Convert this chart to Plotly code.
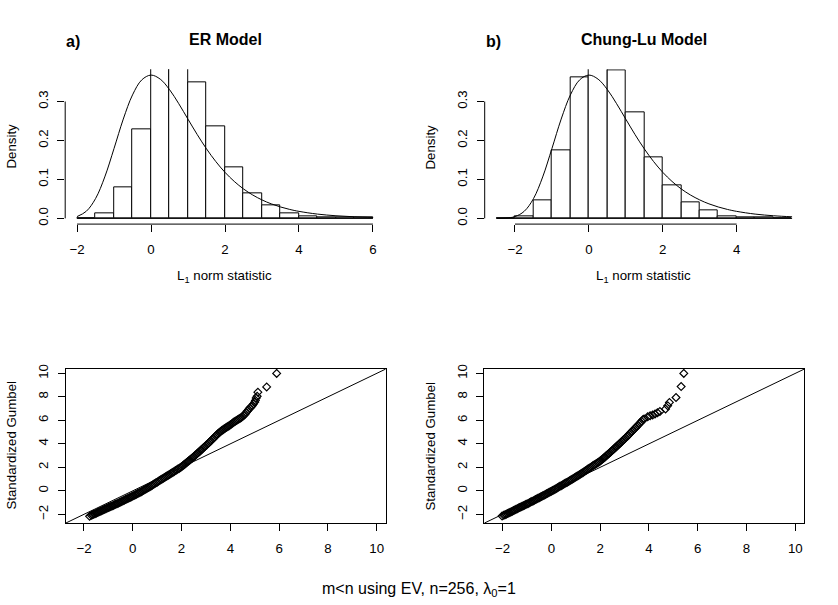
import plotly.graph_objects as go

W, H = 838, 605

# ---------------- data ----------------
# Histogram (density) - ER model
er_breaks = [-2.0, -1.5, -1.0, -0.5, 0.0, 0.5, 1.0, 1.5, 2.0, 2.5, 3.0, 3.5, 4.0, 4.5, 5.0, 5.5, 6.0]
er_density = [0.0, 0.012, 0.079, 0.228, 0.43, 0.41, 0.350, 0.237, 0.130, 0.063, 0.034, 0.0127, 0.006, 0.0034, 0.0025, 0.0017]

# Histogram (density) - Chung-Lu model
cl_breaks = [-2.5, -2.0, -1.5, -1.0, -0.5, 0.0, 0.5, 1.0, 1.5, 2.0, 2.5, 3.0, 3.5, 4.0, 4.5, 5.0, 5.5]
cl_density = [0.0, 0.005, 0.0456, 0.175, 0.3625, 0.448, 0.381, 0.271, 0.157, 0.0837, 0.0406, 0.0203, 0.005, 0.0025, 0.0017, 0.0008]

# Reference density curve
er_curve_x = [-2.0, -1.75, -1.5, -1.25, -1.0, -0.75, -0.5, -0.25, 0.0, 0.25, 0.5, 0.75, 1.0, 1.25, 1.5,
              1.75, 2.0, 2.25, 2.5, 2.75, 3.0, 3.25, 3.5, 3.75, 4.0, 4.5, 5.0, 5.5, 6.0]
er_curve_y = [0.0046, 0.0182, 0.0507, 0.1064, 0.1794, 0.2549, 0.3170, 0.3556, 0.3679, 0.3574, 0.3307,
              0.2945, 0.2546, 0.2151, 0.1785, 0.1461, 0.1182, 0.0949, 0.0756, 0.0600, 0.0474, 0.0373,
              0.0293, 0.0230, 0.0180, 0.0110, 0.0067, 0.0041, 0.0025]
cl_curve_x = [-2.5, -2.25, -2.0, -1.75, -1.5, -1.25, -1.0, -0.75, -0.5, -0.25, 0.0, 0.25, 0.5, 0.75, 1.0,
              1.25, 1.5, 1.75, 2.0, 2.25, 2.5, 2.75, 3.0, 3.25, 3.5, 3.75, 4.0, 4.5, 5.0, 5.5]
cl_curve_y = [0.0001, 0.0007, 0.0046, 0.0182, 0.0507, 0.1064, 0.1794, 0.2549, 0.3170, 0.3556, 0.3679,
              0.3574, 0.3307, 0.2945, 0.2546, 0.2151, 0.1785, 0.1461, 0.1182, 0.0949, 0.0756, 0.0600,
              0.0474, 0.0373, 0.0293, 0.0230, 0.0180, 0.0110, 0.0067, 0.0041]

# QQ plot - ER model
er_qq_x = [-1.77, -1.70, -1.65, -1.60, -1.55, -1.50, -1.45, -1.40, -1.35, -1.30, -1.25, -1.20, -1.15,
           -1.10, -1.05, -1.00, -0.95, -0.90, -0.85, -0.80, -0.75, -0.70, -0.65, -0.60, -0.55, -0.50,
           -0.45, -0.40, -0.35, -0.30, -0.25, -0.20, -0.15, -0.10, -0.05, 0.00, 0.05, 0.10, 0.15, 0.20,
           0.25, 0.30, 0.35, 0.40, 0.45, 0.50, 0.55, 0.60, 0.65, 0.70, 0.75, 0.80, 0.85, 0.90, 0.95,
           1.00, 1.05, 1.10, 1.15, 1.20, 1.25, 1.30, 1.35, 1.40, 1.45, 1.50, 1.55, 1.60, 1.65, 1.70,
           1.75, 1.80, 1.85, 1.90, 1.95, 2.00, 2.05, 2.10, 2.15, 2.20, 2.25, 2.30, 2.35, 2.40, 2.45,
           2.50, 2.55, 2.60, 2.65, 2.70, 2.75, 2.80, 2.85, 2.90, 2.95, 3.00, 3.05, 3.10, 3.15, 3.20,
           3.25, 3.30, 3.35, 3.40, 3.45, 3.50, 3.55, 3.60, 3.65, 3.70, 3.75, 3.80, 3.85, 3.90, 3.95,
           4.00, 4.05, 4.10, 4.15, 4.20, 4.25, 4.30, 4.35, 4.40, 4.45, 4.50, 4.55, 4.60, 4.65, 4.70,
           4.75, 4.80, 4.85, 4.90, 4.95, 5.00, 5.03, 5.06, 5.10, 5.13, 5.49, 5.90]
er_qq_y = [-2.17, -2.08, -2.04, -1.99, -1.95, -1.90, -1.85, -1.80, -1.76, -1.71, -1.66, -1.61, -1.57,
           -1.52, -1.47, -1.43, -1.38, -1.33, -1.29, -1.24, -1.19, -1.14, -1.10, -1.05, -1.00, -0.95,
           -0.90, -0.85, -0.80, -0.75, -0.70, -0.65, -0.60, -0.55, -0.50, -0.45, -0.40, -0.34, -0.29,
           -0.23, -0.18, -0.12, -0.07, -0.01, 0.05, 0.11, 0.17, 0.23, 0.29, 0.35, 0.42, 0.48, 0.55,
           0.61, 0.68, 0.74, 0.81, 0.87, 0.94, 1.00, 1.07, 1.13, 1.20, 1.26, 1.33, 1.39, 1.46, 1.52,
           1.59, 1.65, 1.72, 1.78, 1.85, 1.91, 1.98, 2.05, 2.13, 2.21, 2.30, 2.38, 2.47, 2.55, 2.64,
           2.73, 2.82, 2.91, 3.00, 3.09, 3.19, 3.28, 3.38, 3.47, 3.57, 3.66, 3.76, 3.85, 3.95, 4.05,
           4.15, 4.25, 4.36, 4.46, 4.57, 4.67, 4.78, 4.88, 4.97, 5.05, 5.13, 5.20, 5.28, 5.35, 5.42,
           5.48, 5.55, 5.62, 5.70, 5.78, 5.86, 5.93, 5.99, 6.05, 6.12, 6.18, 6.25, 6.32, 6.42, 6.52,
           6.66, 6.80, 6.92, 7.05, 7.15, 7.25, 7.40, 7.55, 7.70, 7.90, 8.05, 8.40, 8.85, 10.0]

# QQ plot - Chung-Lu model
cl_qq_x = [-2.02, -1.95, -1.90, -1.85, -1.80, -1.75, -1.70, -1.65, -1.60, -1.55, -1.50, -1.45, -1.40,
           -1.35, -1.30, -1.25, -1.20, -1.15, -1.10, -1.05, -1.00, -0.95, -0.90, -0.85, -0.80, -0.75,
           -0.70, -0.65, -0.60, -0.55, -0.50, -0.45, -0.40, -0.35, -0.30, -0.25, -0.20, -0.15, -0.10,
           -0.05, 0.00, 0.05, 0.10, 0.15, 0.20, 0.25, 0.30, 0.35, 0.40, 0.45, 0.50, 0.55, 0.60, 0.65,
           0.70, 0.75, 0.80, 0.85, 0.90, 0.95, 1.00, 1.05, 1.10, 1.15, 1.20, 1.25, 1.30, 1.35, 1.40,
           1.45, 1.50, 1.55, 1.60, 1.65, 1.70, 1.75, 1.80, 1.85, 1.90, 1.95, 2.00, 2.05, 2.10, 2.15,
           2.20, 2.25, 2.30, 2.35, 2.40, 2.45, 2.50, 2.55, 2.60, 2.65, 2.70, 2.75, 2.80, 2.85, 2.90,
           2.95, 3.00, 3.05, 3.10, 3.15, 3.20, 3.25, 3.30, 3.35, 3.40, 3.45, 3.50, 3.55, 3.60, 3.65,
           3.70, 3.75, 3.80, 3.95, 4.05, 4.15, 4.25, 4.35, 4.45, 4.68, 4.77, 4.84, 5.11, 5.32, 5.43]
cl_qq_y = [-2.14, -2.08, -2.03, -1.99, -1.94, -1.89, -1.84, -1.79, -1.74, -1.68, -1.63, -1.58, -1.53,
           -1.47, -1.42, -1.37, -1.32, -1.27, -1.22, -1.17, -1.12, -1.07, -1.02, -0.96, -0.91, -0.86,
           -0.81, -0.75, -0.70, -0.64, -0.59, -0.53, -0.48, -0.42, -0.37, -0.31, -0.26, -0.20, -0.15,
           -0.09, -0.04, 0.02, 0.08, 0.14, 0.20, 0.26, 0.32, 0.38, 0.44, 0.50, 0.56, 0.62, 0.68, 0.74,
           0.80, 0.86, 0.92, 0.98, 1.05, 1.11, 1.17, 1.23, 1.30, 1.36, 1.43, 1.50, 1.57, 1.64, 1.71,
           1.78, 1.85, 1.92, 1.99, 2.06, 2.13, 2.19, 2.26, 2.32, 2.39, 2.46, 2.53, 2.62, 2.71, 2.80,
           2.89, 2.98, 3.07, 3.16, 3.26, 3.35, 3.45, 3.54, 3.64, 3.73, 3.83, 3.92, 4.02, 4.12, 4.22,
           4.32, 4.42, 4.52, 4.62, 4.72, 4.83, 4.94, 5.05, 5.16, 5.27, 5.37, 5.48, 5.59, 5.70, 5.81,
           5.92, 6.05, 6.12, 6.30, 6.40, 6.45, 6.55, 6.65, 6.75, 6.97, 7.25, 7.53, 7.95, 8.88, 10.0]

hist_xticks_er = [-2, 0, 2, 4, 6]
hist_xticks_cl = [-2, 0, 2, 4]
hist_yticks = [0.0, 0.1, 0.2, 0.3]
hist_yticklabels = ["0.0", "0.1", "0.2", "0.3"]
qq_ticks = [-2, 0, 2, 4, 6, 8, 10]

# ---------------- layout helpers ----------------
FONT = "Liberation Sans, Arial, sans-serif"
TICK_FONT = dict(family=FONT, size=13.3, color="black")


def xdom(a, b):
    return [a / W, b / W]


def ydom(top, bottom):
    return [1 - bottom / H, 1 - top / H]


def px(x):
    return x / W


def py(y):
    return 1 - y / H


fig = go.Figure()

# histograms
for breaks, dens, ax in [(er_breaks, er_density, "1"), (cl_breaks, cl_density, "2")]:
    centers = [(breaks[i] + breaks[i + 1]) / 2 for i in range(len(dens))]
    widths = [breaks[i + 1] - breaks[i] for i in range(len(dens))]
    xa = "x" if ax == "1" else "x" + ax
    ya = "y" if ax == "1" else "y" + ax
    fig.add_trace(go.Bar(x=centers, y=dens, width=widths, xaxis=xa, yaxis=ya,
                         marker=dict(color="white", line=dict(color="black", width=1)),
                         showlegend=False, hoverinfo="skip"))
    fig.add_shape(type="line", xref=xa, yref=ya, x0=breaks[0], x1=breaks[-1], y0=0, y1=0,
                  line=dict(color="black", width=1))

fig.add_trace(go.Scatter(x=er_curve_x, y=er_curve_y, mode="lines", xaxis="x", yaxis="y",
                         line=dict(color="black", width=1, shape="spline"), showlegend=False))
fig.add_trace(go.Scatter(x=cl_curve_x, y=cl_curve_y, mode="lines", xaxis="x2", yaxis="y2",
                         line=dict(color="black", width=1, shape="spline"), showlegend=False))

# QQ plots
for qx, qy, xa, ya in [(er_qq_x, er_qq_y, "x3", "y3"), (cl_qq_x, cl_qq_y, "x4", "y4")]:
    fig.add_trace(go.Scatter(x=qx, y=qy, mode="markers", xaxis=xa, yaxis=ya,
                             marker=dict(symbol="diamond-open", size=6, color="black",
                                         line=dict(width=1.2, color="black")),
                             showlegend=False))

QQ_RANGE = [-2.75, 10.37]
for xa, ya in [("x3", "y3"), ("x4", "y4")]:
    fig.add_shape(type="line", xref=xa, yref=ya, x0=QQ_RANGE[0], y0=QQ_RANGE[0],
                  x1=QQ_RANGE[1], y1=QQ_RANGE[1], line=dict(color="black", width=1))

# R-style axis lines for histograms (spanning first to last tick)
for xa, ya, xt in [("x", "y", hist_xticks_er), ("x2", "y2", hist_xticks_cl)]:
    fig.add_shape(type="line", xref=xa, yref=ya + " domain", x0=xt[0], x1=xt[-1], y0=0, y1=0,
                  line=dict(color="black", width=1))
    fig.add_shape(type="line", xref=xa + " domain", yref=ya, x0=0, x1=0,
                  y0=hist_yticks[0], y1=hist_yticks[-1], line=dict(color="black", width=1))

common_x = dict(showgrid=False, zeroline=False, ticks="outside", ticklen=7, tickcolor="black",
                tickwidth=1, tickfont=TICK_FONT, ticklabelstandoff=6)
common_y = dict(showgrid=False, zeroline=False, ticks="outside", ticklen=7, tickcolor="black",
                tickwidth=1, tickfont=TICK_FONT, tickangle=-90, ticklabelstandoff=4)

fig.update_layout(
    width=W, height=H, margin=dict(l=0, r=0, t=0, b=0),
    paper_bgcolor="white", plot_bgcolor="white",
    bargap=0,
    xaxis=dict(domain=xdom(65.2, 384.8), range=[-2.32, 6.32], tickvals=hist_xticks_er,
               showline=False, anchor="y", **common_x),
    yaxis=dict(domain=ydom(65, 221.3), range=[-0.0147, 0.3826], tickvals=hist_yticks,
               ticktext=hist_yticklabels, showline=False, anchor="x", **common_y),
    xaxis2=dict(domain=xdom(484.7, 803.9), range=[-2.82, 5.82], tickvals=hist_xticks_cl,
                showline=False, anchor="y2", **common_x),
    yaxis2=dict(domain=ydom(65, 221.3), range=[-0.0147, 0.3826], tickvals=hist_yticks,
                ticktext=hist_yticklabels, showline=False, anchor="x2", **common_y),
    xaxis3=dict(domain=xdom(65.7, 385.7), range=QQ_RANGE, tickvals=qq_ticks, showline=True,
                mirror=True, linecolor="black", linewidth=1, anchor="y3", **common_x),
    yaxis3=dict(domain=ydom(367.7, 523.3), range=QQ_RANGE, tickvals=qq_ticks, showline=True,
                mirror=True, linecolor="black", linewidth=1, anchor="x3", **common_y),
    xaxis4=dict(domain=xdom(484.3, 804.3), range=QQ_RANGE, tickvals=qq_ticks, showline=True,
                mirror=True, linecolor="black", linewidth=1, anchor="y4", **common_x),
    yaxis4=dict(domain=ydom(367.7, 523.3), range=QQ_RANGE, tickvals=qq_ticks, showline=True,
                mirror=True, linecolor="black", linewidth=1, anchor="x4", **common_y),
)

ann = []


def add_text(text, x, y, size=13.3, bold=False, angle=0, xanchor="center"):
    t = "<b>%s</b>" % text if bold else text
    ann.append(dict(text=t, x=px(x), y=py(y), xref="paper", yref="paper", showarrow=False,
                    xanchor=xanchor, yanchor="middle", textangle=angle,
                    font=dict(family=FONT, size=size, color="black")))


add_text("ER Model", 225, 35, size=16, bold=True)
add_text("Chung-Lu Model", 644, 35, size=16, bold=True)
add_text("a)", 64, 37, size=16, bold=True, xanchor="left")
add_text("b)", 484, 37, size=16, bold=True, xanchor="left")
add_text("Density", 12, 143, angle=-90)
add_text("Density", 431, 143, angle=-90)
add_text("L<sub>1</sub> norm statistic", 224, 274)
add_text("L<sub>1</sub> norm statistic", 643, 274)
add_text("Standardized Gumbel", 12, 445, angle=-90)
add_text("Standardized Gumbel", 431, 445, angle=-90)
add_text("m&lt;n using EV, n=256, λ<sub>0</sub>=1", 419, 590, size=16)

fig.update_layout(annotations=ann)

# remove the default 8px page margin so the figure sits at the window's corner; no mode bar
fig.write_html("out.html", config={"displayModeBar": False},
               post_script="document.body.style.margin='0px';")
